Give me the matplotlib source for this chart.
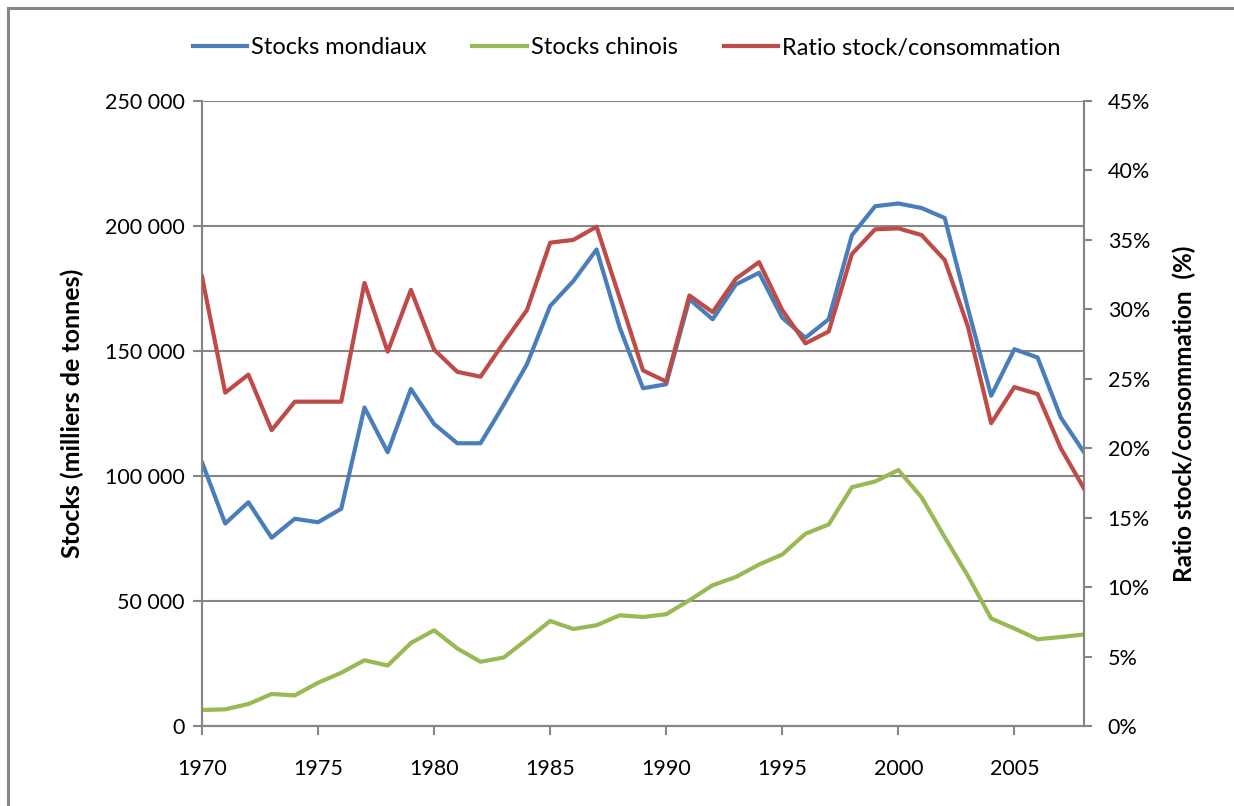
import matplotlib
matplotlib.use("Agg")
import matplotlib.pyplot as plt
import matplotlib.ticker as mticker
from matplotlib.lines import Line2D

years = list(range(1970, 2009))
stocks_mondiaux = [105500, 81000, 89500, 75300, 82900, 81500, 86900, 127400, 109500, 134800,
                   120800, 113100, 113100, 128500, 144700, 168000, 178000, 190600, 159300, 135100,
                   136700, 170700, 162700, 176600, 181300, 163300, 155300, 162700, 196300, 207900,
                   209000, 207200, 203200, 167000, 132100, 150700, 147400, 123400, 109500]
stocks_chinois = [6400, 6650, 8800, 12800, 12250, 17300, 21300, 26300, 24200, 33200,
                  38300, 31000, 25700, 27400, 34600, 42000, 38800, 40300, 44300, 43600,
                  44700, 50300, 56300, 59600, 64600, 68600, 76900, 80600, 95500, 97800,
                  102400, 91500, 75500, 60000, 43000, 39000, 34700, 35600, 36600]
ratio = [32.35, 24.0, 25.3, 21.3, 23.35, 23.35, 23.35, 31.9, 26.95, 31.4,
         27.1, 25.5, 25.15, 27.6, 29.95, 34.8, 35.0, 35.95, 30.8, 25.6,
         24.8, 31.0, 29.8, 32.2, 33.4, 29.95, 27.55, 28.4, 33.98, 35.76,
         35.83, 35.35, 33.55, 28.75, 21.8, 24.4, 23.9, 20.0, 17.1]

labels = ["Stocks mondiaux", "Stocks chinois", "Ratio stock/consommation"]
colors = ["#4A7EBB", "#98B954", "#BE4B48"]

plt.rcParams['font.family'] = ['Lato', 'DejaVu Sans']
GRID = "#868686"
W, H = 1234, 806

fig = plt.figure(figsize=(W / 100, H / 100), dpi=100)
# outer chart frame (top and left edges visible)
fig.add_artist(Line2D([8 / W, 1.0], [1 - 8 / H, 1 - 8 / H], transform=fig.transFigure,
                      color=GRID, lw=2.2))
fig.add_artist(Line2D([8 / W, 8 / W], [0.0, 1 - 8 / H], transform=fig.transFigure,
                      color=GRID, lw=2.2))

ax = fig.add_axes([202 / W, 1 - 726 / H, (1084 - 202) / W, (726 - 101) / H])
ax2 = ax.twinx()

l1, = ax.plot(years, stocks_mondiaux, color=colors[0], lw=3.0, zorder=3)
l2, = ax.plot(years, stocks_chinois, color=colors[1], lw=3.0, zorder=3)
l3, = ax2.plot(years, ratio, color=colors[2], lw=3.0, zorder=3)

ax.set_xlim(1970, 2008)
ax.set_ylim(0, 250000)
ax2.set_ylim(0, 45)

ax.set_yticks(range(0, 250001, 50000))
ax.yaxis.set_major_formatter(mticker.FuncFormatter(lambda v, p: f"{int(v):,}".replace(",", " ")))
ax.set_xticks(range(1970, 2009, 5))
ax2.set_yticks(range(0, 46, 5))
ax2.yaxis.set_major_formatter(mticker.FuncFormatter(lambda v, p: f"{int(v)}%"))

ax.grid(axis='y', color=GRID, lw=1.5)
ax.set_axisbelow(True)
for a in (ax, ax2):
    for s in a.spines.values():
        s.set_color(GRID)
        s.set_linewidth(1.5)
    a.spines['top'].set_visible(False)
ax.tick_params(axis='y', colors=GRID, labelcolor='black', labelsize=15.5, length=6.5, width=1.5, pad=6)
ax.tick_params(axis='x', colors=GRID, labelcolor='black', labelsize=15.5, length=6.5, width=1.5, pad=17)
ax2.tick_params(axis='y', colors=GRID, labelcolor='black', labelsize=15.5, length=6, width=1.5, pad=11)

ax.set_ylabel("Stocks (milliers de tonnes)", fontsize=18, fontweight='bold', labelpad=15)
ax2.set_ylabel("Ratio stock/consommation  (%)", fontsize=17.5, fontweight='bold', labelpad=16)

fig.legend([l1, l2, l3], labels, loc='center', bbox_to_anchor=(626.5 / W, 1 - 48 / H),
           ncol=3, frameon=False, fontsize=17, handlelength=2.3, columnspacing=1.95,
           handletextpad=0.17)

fig.savefig("out.png", dpi=100)
